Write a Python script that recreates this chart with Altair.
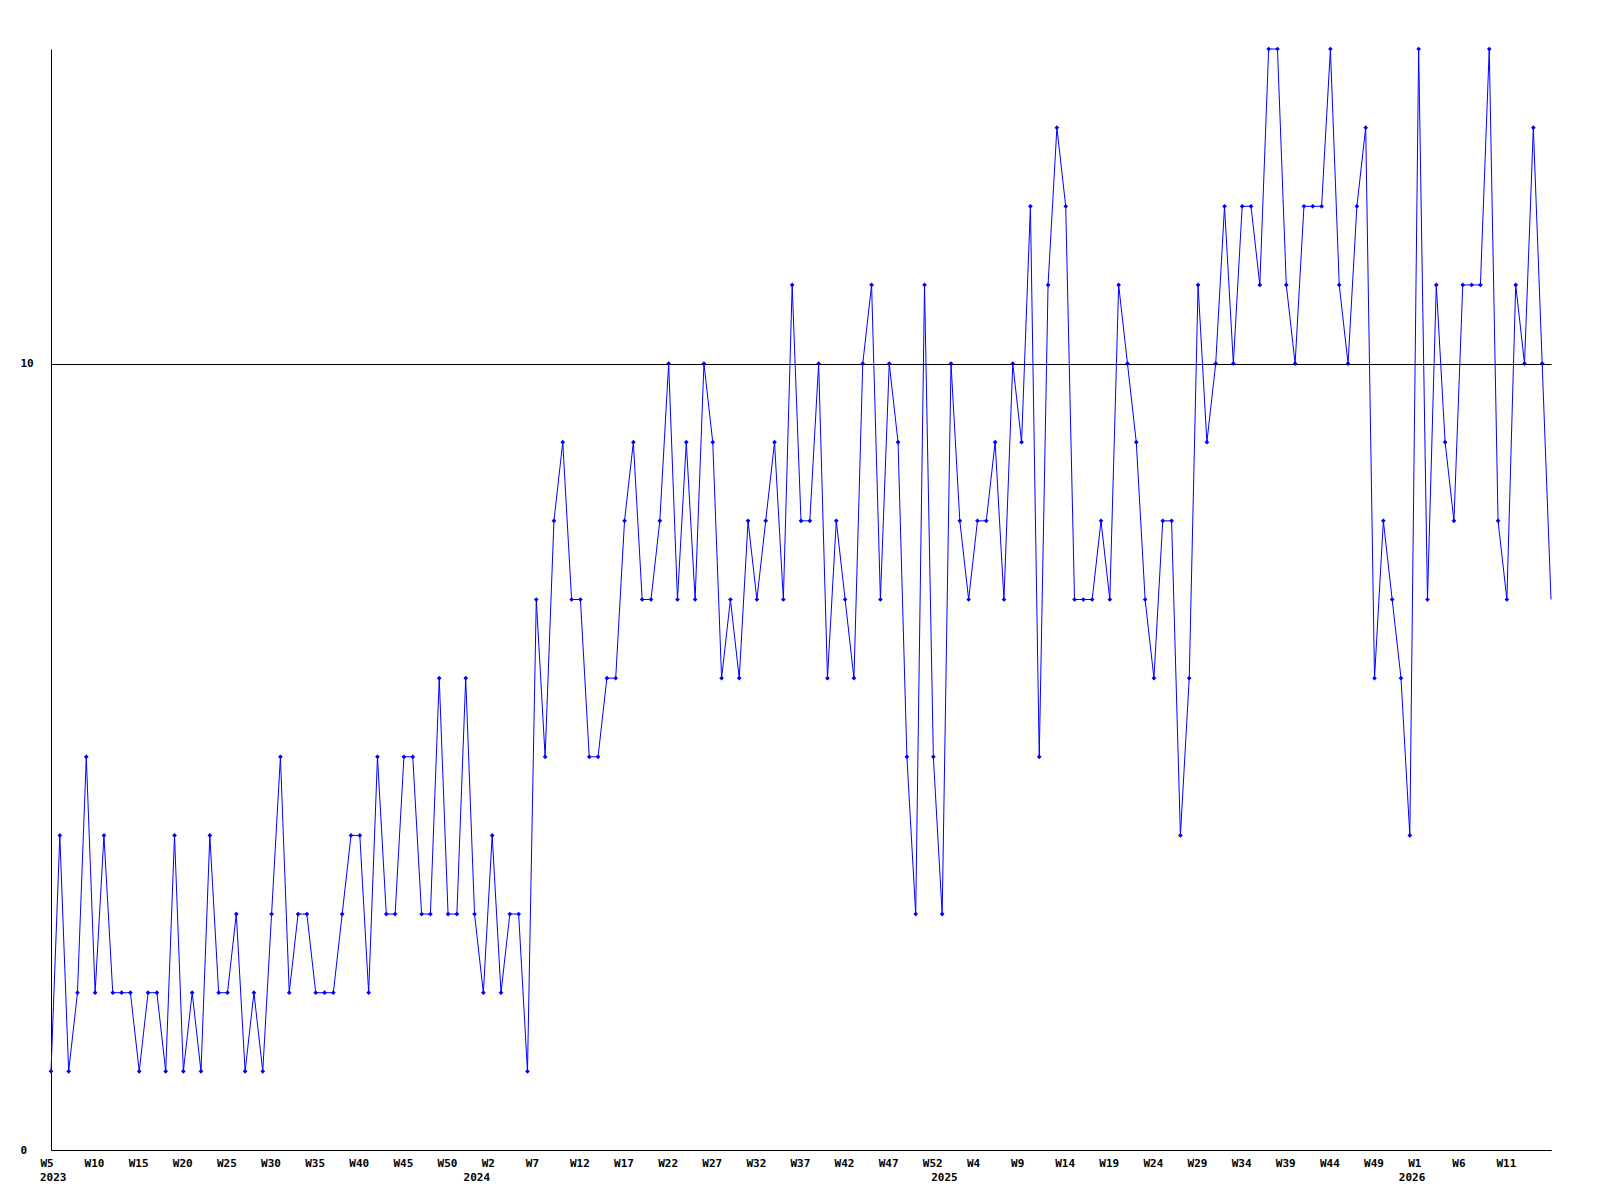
import altair as alt
import pandas as pd

# Weekly values, W5 2023 .. W16 2026 (one point per week slot)
values = [
    1, 4, 1, 2, 5, 2, 4, 2, 2, 2, 1, 2, 2, 1, 4, 1, 2, 1, 4, 2,
    2, 3, 1, 2, 1, 3, 5, 2, 3, 3, 2, 2, 2, 3, 4, 4, 2, 5, 3, 3,
    5, 5, 3, 3, 6, 3, 3, 6, 3, 2, 4, 2, 3, 3, 1, 7, 5, 8, 9, 7,
    7, 5, 5, 6, 6, 8, 9, 7, 7, 8, 10, 7, 9, 7, 10, 9, 6, 7, 6, 8,
    7, 8, 9, 7, 11, 8, 8, 10, 6, 8, 7, 6, 10, 11, 7, 10, 9, 5, 3, 11,
    5, 3, 10, 8, 7, 8, 8, 9, 7, 10, 9, 12, 5, 11, 13, 12, 7, 7, 7, 8,
    7, 11, 10, 9, 7, 6, 8, 8, 4, 6, 11, 9, 10, 12, 10, 12, 12, 11, 14, 14,
    11, 10, 12, 12, 12, 14, 11, 10, 12, 13, 6, 8, 7, 6, 4, 14, 7, 11, 9, 8,
    11, 11, 11, 14, 8, 7, 11, 10, 13, 10, 7,
]

week_tick_labels = [
    "W5", "W10", "W15", "W20", "W25", "W30", "W35", "W40", "W45", "W50",
    "W2", "W7", "W12", "W17", "W22", "W27", "W32", "W37", "W42", "W47", "W52",
    "W4", "W9", "W14", "W19", "W24", "W29", "W34", "W39", "W44", "W49",
    "W1", "W6", "W11",
]
week_tick_step = 5

year_labels = ["2023", "2024", "2025", "2026"]
year_start_index = [0, 48, 101, 154]

y_ticks = [0, 10]

FONT = "DejaVu Sans Mono"
W, H = 1500, 1101
n = len(values)

df = pd.DataFrame({"idx": list(range(n)), "value": values})
df_pts = df[df["idx"] < n - 1]
df_year = pd.DataFrame({"idx": year_start_index, "label": year_labels})

tick_pos = [i * week_tick_step for i in range(len(week_tick_labels))]
label_arr = "[" + ",".join("'" + s + "'" for s in week_tick_labels) + "]"
label_expr = f"{label_arr}[round(datum.value/{week_tick_step})]"

xscale = alt.Scale(domain=[0, n - 1], nice=False, zero=False)
yscale = alt.Scale(domain=[0, 14], nice=False, zero=True)

x_axis = alt.Axis(
    values=tick_pos, labelExpr=label_expr, title=None, ticks=False, grid=False,
    labelAlign="left", labelOffset=-11, labelBaseline="top", labelPadding=7,
    labelFont=FONT, labelFontSize=11, labelFontWeight="bold", labelColor="black",
    domainColor="black", domainWidth=1, labelOverlap=False, labelFlush=False,
    labelBound=False,
)
y_axis = alt.Axis(
    values=y_ticks, format="d", title=None, ticks=False, grid=True,
    gridColor="black", gridOpacity=1, gridWidth=1, labelPadding=31,
    labelAlign="left",
    labelFont=FONT, labelFontSize=11, labelFontWeight="bold",
    labelColor="black", domainColor="black", domainWidth=1,
    labelFlush=False, labelBound=False,
)

base = alt.Chart(df)

line = base.mark_line(color="#0000ff", strokeWidth=1).encode(
    x=alt.X("idx:Q", scale=xscale, axis=x_axis),
    y=alt.Y("value:Q", scale=yscale, axis=y_axis),
)

points = alt.Chart(df_pts).mark_point(
    shape="diamond", filled=True, size=22, color="#0000ff", opacity=1
).encode(
    x=alt.X("idx:Q", scale=xscale),
    y=alt.Y("value:Q", scale=yscale),
)

years = alt.Chart(df_year).mark_text(
    align="left", baseline="top", dx=-11, font=FONT, fontSize=11,
    fontWeight="bold", color="black",
).encode(
    x=alt.X("idx:Q", scale=xscale),
    y=alt.value(H + 22),
    text="label:N",
)

chart = alt.layer(line, points, years).properties(
    width=W, height=H,
    background="white",
    autosize=alt.AutoSizeParams(type="none"),
    padding={"left": 43, "top": 41, "right": 41, "bottom": 45},
).configure_view(strokeWidth=0, stroke="transparent")

chart.save("out.html", embed_options={"renderer": "svg", "actions": False})
